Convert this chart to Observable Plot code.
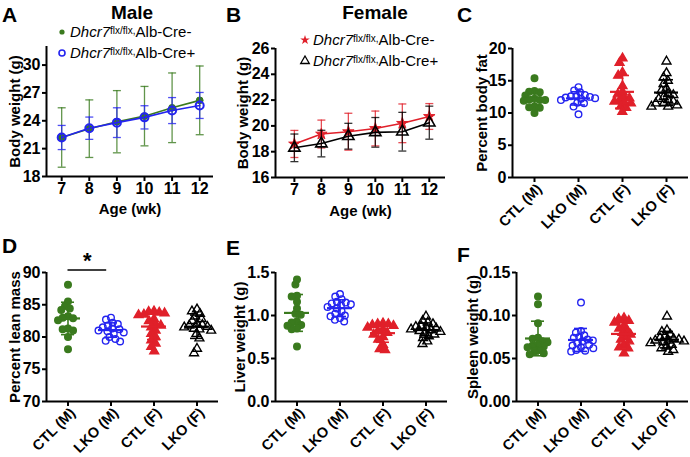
<!DOCTYPE html>
<html><head><meta charset="utf-8">
<script src="https://cdn.jsdelivr.net/npm/d3@7"></script>
<script src="https://cdn.jsdelivr.net/npm/@observablehq/plot@0.6"></script>
<style>
body{margin:0;background:#fff;}
#fig{position:relative;width:690px;height:457px;overflow:hidden;font-family:"Liberation Sans",Arial,sans-serif;color:#000;}
#fig g[aria-label="y-axis tick label"], #fig g[aria-label="x-axis tick label"]{font-size:16px;}
#fig g[aria-label="fx-axis tick label"]{font-size:14.5px;}
.lbl{position:absolute;font-weight:bold;white-space:nowrap;line-height:1;}
.leg{position:absolute;font-size:15px;white-space:nowrap;line-height:1;display:flex;align-items:center;}
.leg i{font-style:italic;}
.leg sup{font-size:10px;position:relative;top:-1px;vertical-align:top;}
</style></head><body><div id="fig"></div>
<script>
// ---- data ----
const ages = [7, 8, 9, 10, 11, 12];
const maleCtlMean = [22.2, 23.15, 23.9, 24.5, 25.4, 26.2];
const maleCtlSd   = [3.2, 3.1, 3.35, 3.2, 3.75, 3.7];
const maleLkoMean = [22.2, 23.2, 23.8, 24.37, 25.1, 25.65];
const maleLkoSd   = [1.3, 1.2, 1.6, 1.25, 1.4, 1.4];
const femCtlMean  = [18.6, 19.37, 19.55, 19.8, 20.2, 20.73];
const femCtlSd    = [1.05, 1.08, 1.43, 1.35, 1.5, 1.0];
const femLkoMean  = [18.3, 18.63, 19.2, 19.5, 19.55, 20.25];
const femLkoSd    = [1.07, 1.03, 1.0, 1.15, 1.5, 1.28];

const groups = ["CTL (M)", "LKO (M)", "CTL (F)", "LKO (F)"];

const fatCtlM = [15.4, 13.4, 13.3, 13.2, 12.7, 12.2, 12.1, 12.0, 12.0, 11.9, 11.0, 10.9, 10.8, 10.0];
const fatLkoM = [14.0, 13.5, 13.2, 12.8, 12.6, 12.6, 12.5, 12.4, 12.3, 12.2, 12.0, 11.6, 11.5, 11.0, 9.8];
const fatCtlF = [18.5, 17.8, 16.3, 15.8, 14.2, 13.3, 12.9, 12.5, 12.3, 12.0, 11.8, 11.6, 11.5, 11.0, 10.8, 10.2];
const fatLkoF = [18.0, 16.2, 15.5, 15.0, 14.5, 13.8, 13.5, 13.0, 12.8, 12.5, 12.2, 12.0, 11.8, 11.5, 11.5, 11.2, 11.0, 11.0];

const leanCtlM = [88.1, 85.5, 84.8, 84.4, 84.2, 83.2, 83.0, 82.9, 82.6, 81.3, 81.2, 81.0, 80.0, 78.1];
const leanLkoM = [83.0, 82.7, 82.2, 82.0, 81.8, 81.5, 81.3, 81.2, 81.0, 80.9, 80.7, 80.5, 80.0, 79.7, 79.4, 79.3];
const leanCtlF = [84.0, 83.9, 83.8, 83.7, 83.5, 83.4, 82.8, 82.5, 82.0, 81.8, 81.5, 81.0, 80.5, 80.0, 79.5, 79.0, 78.5, 77.8];
const leanLkoF = [84.3, 84.0, 83.6, 83.2, 82.8, 82.5, 82.0, 81.9, 81.8, 81.6, 81.5, 81.3, 81.2, 81.0, 80.5, 79.8, 78.2, 77.5];

const liverCtlM = [1.42, 1.36, 1.23, 1.22, 1.16, 1.08, 1.02, 1.01, 0.93, 0.92, 0.89, 0.88, 0.85, 0.84, 0.64];
const liverLkoM = [1.25, 1.22, 1.19, 1.16, 1.15, 1.14, 1.13, 1.12, 1.10, 1.08, 1.05, 1.02, 1.00, 0.99, 0.97, 0.95, 0.93];
const liverCtlF = [0.91, 0.90, 0.90, 0.89, 0.88, 0.86, 0.84, 0.82, 0.80, 0.78, 0.75, 0.72, 0.66, 0.61, 0.60];
const liverLkoF = [0.99, 0.94, 0.92, 0.90, 0.88, 0.87, 0.86, 0.85, 0.84, 0.83, 0.82, 0.81, 0.80, 0.78, 0.76, 0.74, 0.70, 0.67];

const spleenCtlM = [0.122, 0.113, 0.091, 0.074, 0.073, 0.070, 0.069, 0.066, 0.065, 0.064, 0.063, 0.060, 0.058, 0.056, 0.055];
const spleenLkoM = [0.115, 0.082, 0.080, 0.077, 0.075, 0.074, 0.072, 0.071, 0.070, 0.068, 0.066, 0.065, 0.063, 0.062, 0.060, 0.059, 0.058];
const spleenCtlF = [0.097, 0.096, 0.094, 0.092, 0.088, 0.085, 0.083, 0.080, 0.078, 0.075, 0.072, 0.070, 0.066, 0.063, 0.062, 0.056];
const spleenLkoF = [0.099, 0.083, 0.081, 0.078, 0.076, 0.074, 0.073, 0.072, 0.071, 0.071, 0.070, 0.069, 0.068, 0.066, 0.064, 0.062, 0.060, 0.058];

const sigLean = [{g: "CTL (M)", to: 0.9, y: 90.4, text: "*"}];

// ---- styling ----
const GREEN = "#3a7a1e", BLUE = "#2424f0", RED = "#e0202a", BLACK = "#000";
const groupColor = [GREEN, BLUE, RED, BLACK];
const groupSymbol = ["circle", "circle", "triangle", "triangle"];
const groupFill = [GREEN, "none", RED, "none"];
const FONT = '"Liberation Sans", Arial, sans-serif';
const baseStyle = {fontFamily: FONT, fontSize: "15px", fontWeight: "bold", background: "none", overflow: "visible", color: "black"};
const capSymbol = {draw(ctx, size) { const w = Math.sqrt(size / Math.PI); ctx.moveTo(-w, 0); ctx.lineTo(w, 0); }};

const fig = document.getElementById("fig");
function place(node, left, top) {
  node.style.position = "absolute";
  node.style.left = left + "px";
  node.style.top = top + "px";
  fig.appendChild(node);
}

// ---- line panels ----
function linePanel(o) {
  const marks = [
    Plot.ruleX([o.xDomain[0]], {y1: o.yDomain[0], y2: o.yDomain[1], strokeWidth: 2}),
    Plot.ruleY([o.yDomain[0]], {strokeWidth: 2}),
    Plot.axisY({ticks: o.yTicks, tickSize: 4, tickPadding: 2, strokeWidth: 2, label: o.yLabel, labelAnchor: "center", labelOffset: o.yLabelOffset, labelArrow: "none"}),
    Plot.axisX({ticks: ages, tickSize: 5, tickPadding: 1, strokeWidth: 2, tickFormat: d3.format("d"), label: "Age (wk)", labelAnchor: "center", labelOffset: o.xLabelOffset, labelArrow: "none"})
  ];
  for (const s of o.series) {
    const rows = ages.map((a, i) => ({age: a, mean: s.mean[i], lo: s.mean[i] - s.sd[i], hi: s.mean[i] + s.sd[i]}));
    marks.push(
      Plot.ruleX(rows, {x: "age", y1: "lo", y2: "hi", stroke: s.color, strokeOpacity: 0.8, strokeWidth: 1.3}),
      Plot.dot(rows, {x: "age", y: "lo", symbol: capSymbol, r: 4, fill: "none", stroke: s.color, strokeOpacity: 0.8, strokeWidth: 1.3}),
      Plot.dot(rows, {x: "age", y: "hi", symbol: capSymbol, r: 4, fill: "none", stroke: s.color, strokeOpacity: 0.8, strokeWidth: 1.3}),
      Plot.line(rows, {x: "age", y: "mean", stroke: s.color, strokeWidth: 1.6}),
      Plot.dot(rows, {x: "age", y: "mean", symbol: s.symbol, r: s.r, fill: s.fill, stroke: s.color, strokeWidth: s.sw})
    );
  }
  const svg = Plot.plot({
    width: o.width, height: o.height,
    marginLeft: o.mL, marginRight: o.mR, marginTop: o.mT, marginBottom: o.mB,
    x: {domain: o.xDomain}, y: {domain: o.yDomain},
    style: baseStyle, marks
  });
  place(svg, o.left, o.top);
}

// ---- scatter panels ----
function scatterPanel(o) {
  const marks = [
    Plot.ruleY([o.yDomain[0]], {strokeWidth: 2}),
    Plot.ruleX([groups[0]], {fx: d => d, x: () => -0.5, y1: () => o.yDomain[0], y2: () => o.yDomain[1], strokeWidth: 2}),
    Plot.axisY({ticks: o.yTicks, tickFormat: o.yFormat, tickSize: 4, tickPadding: 2, strokeWidth: 2, label: o.yLabel, labelAnchor: "center", labelOffset: o.yLabelOffset, labelArrow: "none"}),
    // tick marks only
    Plot.axisFx({anchor: "bottom", tickSize: 5, strokeWidth: 2, fill: "none", label: null}),
    // rotated tick labels only, offset so they hang below-right of the tick
    Plot.axisFx({anchor: "bottom", tickRotate: -45, tickSize: 0, tickPadding: 6, label: null, dx: 5, dy: 3})
  ];
  o.arrs.forEach((a, i) => {
    const data = a.map(v => ({g: groups[i], v}));
    const st = [{g: groups[i], mean: d3.mean(a), sd: d3.deviation(a)}];
    const c = groupColor[i];
    marks.push(
      Plot.ruleX(st, {fx: "g", x: () => 0, y1: d => d.mean - d.sd, y2: d => d.mean + d.sd, stroke: c, strokeWidth: 1.6}),
      Plot.ruleY(st, {fx: "g", y: d => d.mean - d.sd, insetLeft: o.capInset, insetRight: o.capInset, stroke: c, strokeWidth: 1.6}),
      Plot.ruleY(st, {fx: "g", y: d => d.mean + d.sd, insetLeft: o.capInset, insetRight: o.capInset, stroke: c, strokeWidth: 1.6}),
      Plot.dot(data, Plot.dodgeX({anchor: "middle", padding: 0, r: 2.7}, {fx: "g", y: "v", r: 3.3, symbol: groupSymbol[i], fill: groupFill[i], stroke: c, strokeWidth: 1.4})),
      Plot.ruleY(st, {fx: "g", y: "mean", insetLeft: o.meanInset, insetRight: o.meanInset, stroke: c, strokeWidth: 2.2})
    );
  });
  if (o.sig) {
    marks.push(
      Plot.ruleY(o.sig, {fx: "g", y: "y", x1: () => 0, x2: "to", strokeWidth: 1.5}),
      Plot.text(o.sig, {fx: "g", x: d => d.to / 2, y: "y", text: "text", dy: -2, fontSize: 22, lineAnchor: "bottom"})
    );
  }
  const svg = Plot.plot({
    width: o.width, height: o.height,
    marginLeft: o.mL, marginRight: o.mR, marginTop: o.mT, marginBottom: o.mB,
    fx: {domain: groups, padding: 0},
    x: {domain: [-0.5, 0.5], axis: null},
    y: {domain: o.yDomain},
    style: baseStyle, marks
  });
  place(svg, o.left, o.top);
}

linePanel({left: 0, top: 0, width: 230, height: 230, mL: 46, mR: 17, mT: 46, mB: 54,
  xDomain: [6.45, 12.5], yDomain: [18, 32], yTicks: [18, 21, 24, 27, 30],
  yLabel: "Body weight (g)", yLabelOffset: 37, xLabelOffset: 37,
  series: [
    {mean: maleCtlMean, sd: maleCtlSd, color: GREEN, symbol: "circle", r: 3.4, fill: GREEN, sw: 1},
    {mean: maleLkoMean, sd: maleLkoSd, color: BLUE, symbol: "circle", r: 4, fill: "none", sw: 2}
  ]});

linePanel({left: 225, top: 0, width: 230, height: 230, mL: 50, mR: 10, mT: 48, mB: 53,
  xDomain: [6.3, 12.6], yDomain: [16, 26], yTicks: [16, 18, 20, 22, 24, 26],
  yLabel: "Body weight (g)", yLabelOffset: 38, xLabelOffset: 38,
  series: [
    {mean: femCtlMean, sd: femCtlSd, color: RED, symbol: "star", r: 3.6, fill: RED, sw: 1},
    {mean: femLkoMean, sd: femLkoSd, color: BLACK, symbol: "triangle", r: 4.2, fill: "none", sw: 1.6}
  ]});

scatterPanel({left: 455, top: 0, width: 235, height: 230, mL: 57, mR: 2, mT: 48, mB: 53,
  arrs: [fatCtlM, fatLkoM, fatCtlF, fatLkoF], yDomain: [0, 20], yTicks: [0, 5, 10, 15, 20], yFormat: d3.format("d"),
  yLabel: "Percent body fat", yLabelOffset: 36, capInset: 15, meanInset: 10});

scatterPanel({left: 0, top: 230, width: 230, height: 227, mL: 46, mR: 12, mT: 42, mB: 56,
  arrs: [leanCtlM, leanLkoM, leanCtlF, leanLkoF], yDomain: [70, 90], yTicks: [70, 75, 80, 85, 90], yFormat: d3.format("d"),
  yLabel: "Percent lean mass", yLabelOffset: 37, capInset: 15, meanInset: 9, sig: sigLean});

scatterPanel({left: 225, top: 230, width: 230, height: 227, mL: 49, mR: 8, mT: 42, mB: 56,
  arrs: [liverCtlM, liverLkoM, liverCtlF, liverLkoF], yDomain: [0, 1.5], yTicks: [0, 0.5, 1, 1.5], yFormat: d3.format(".1f"),
  yLabel: "Liver weight (g)", yLabelOffset: 41, capInset: 15, meanInset: 9});

scatterPanel({left: 455, top: 230, width: 235, height: 227, mL: 61, mR: 2, mT: 42, mB: 56,
  arrs: [spleenCtlM, spleenLkoM, spleenCtlF, spleenLkoF], yDomain: [0, 0.15], yTicks: [0, 0.05, 0.1, 0.15], yFormat: d3.format(".2f"),
  yLabel: "Spleen weight (g)", yLabelOffset: 49, capInset: 15, meanInset: 9});

// ---- titles, panel letters ----
function label(text, left, top, size, extra) {
  const d = document.createElement("div");
  d.className = "lbl";
  d.textContent = text;
  d.style.fontSize = size + "px";
  if (extra) Object.assign(d.style, extra);
  place(d, left, top);
  return d;
}
label("A", 2, 4, 21); label("B", 226, 4, 21); label("C", 457, 4, 21);
label("D", 2, 235, 21); label("E", 226, 237, 21); label("F", 457, 244, 21);
label("Male", 132, 3, 19, {transform: "translateX(-50%)"});
label("Female", 375, 3, 19, {transform: "translateX(-50%)"});

// ---- legends ----
function legendRow(cx, cy, sym, r, fill, stroke, sw, suffix) {
  const d = document.createElement("div");
  d.className = "leg";
  const s = 14;
  const path = d3.symbol(d3["symbol" + sym[0].toUpperCase() + sym.slice(1)], Math.PI * r * r)();
  d.innerHTML = `<svg width="${s}" height="${s}" style="margin-right:1px;overflow:visible"><path transform="translate(${s/2},${s/2})" d="${path}" fill="${fill}" stroke="${stroke}" stroke-width="${sw}"/></svg><i>Dhcr7</i><sup>flx/flx,</sup><span>Alb-Cre${suffix}</span>`;
  place(d, cx - s / 2, cy - 9);
}
legendRow(62, 33, "circle", 2.6, GREEN, "none", 0, "-");
legendRow(62, 54, "circle", 3, "none", BLUE, 1.6, "+");
legendRow(305, 41, "star", 3, RED, "none", 0, "-");
legendRow(305, 62, "triangle", 3.2, "none", BLACK, 1.3, "+");
</script></body></html>
